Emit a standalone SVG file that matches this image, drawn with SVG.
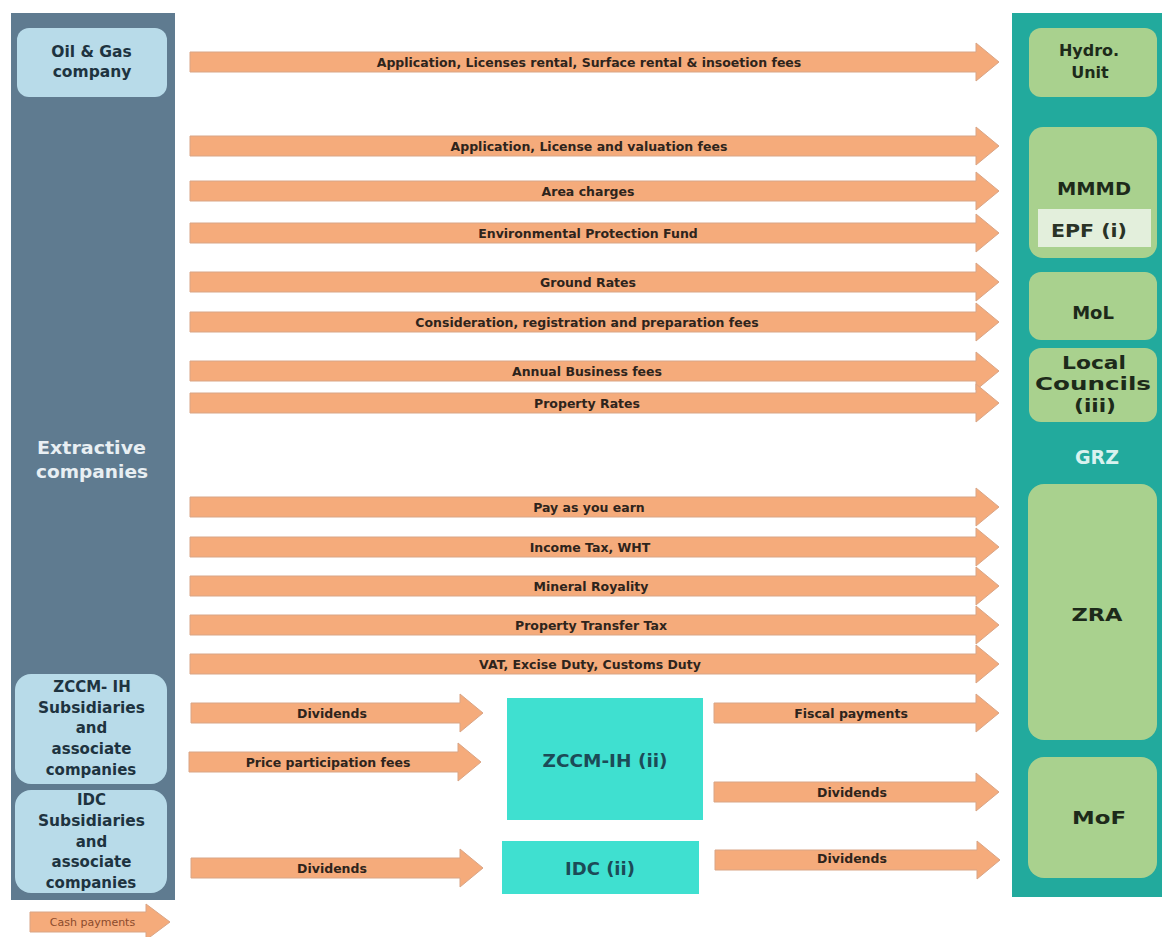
<svg xmlns="http://www.w3.org/2000/svg" xmlns:xlink="http://www.w3.org/1999/xlink" width="1162" height="937" viewBox="0 0 1162 937">
<style>
.arr{fill:#f5ab7b;stroke:#d9a586;stroke-width:1}
.al{font-family:"DejaVu Sans",sans-serif;font-weight:bold;font-size:12.5px;fill:#2e241c;text-anchor:middle;dominant-baseline:central}
.lbox{fill:#b8dbe9}
.gbox{fill:#a9d18e}
.lt{font-family:"DejaVu Sans",sans-serif;font-weight:bold;font-size:15px;fill:#1e3340;text-anchor:middle;dominant-baseline:central}
.gt{font-family:"DejaVu Sans",sans-serif;font-weight:bold;font-size:17px;fill:#1d2a1a;text-anchor:middle;dominant-baseline:central}
.ct{font-family:"DejaVu Sans",sans-serif;font-weight:bold;font-size:18.5px;fill:#1c4b57;text-anchor:middle;dominant-baseline:central}
</style>
<defs>
<polygon id="main" class="arr" points="190,-10 976,-10 976,-19 999,0 976,19 976,10 190,10"/>
<polygon id="sl" class="arr" points="0,-10 269,-10 269,-19 292,0 269,19 269,10 0,10"/>
<polygon id="sr" class="arr" points="0,-10 262,-10 262,-19 285,0 262,19 262,10 0,10"/>
</defs>
<rect width="1162" height="937" fill="#ffffff"/>

<g id="extractive">
<rect x="11" y="13" width="164" height="887" fill="#5f7b90"/>
<text class="lt" x="91.5" y="447" style="fill:#e8eff3;font-size:18.5px" textLength="109" lengthAdjust="spacingAndGlyphs">Extractive</text>
<text class="lt" x="92" y="471" style="fill:#e8eff3;font-size:18.5px" textLength="112" lengthAdjust="spacingAndGlyphs">companies</text>
</g>
<g id="oilgas">
<rect class="lbox" x="17" y="28" width="150" height="69" rx="12"/>
<text class="lt" x="91.5" y="52" style="font-size:15.5px">Oil &amp; Gas</text>
<text class="lt" x="92" y="72" style="font-size:15.5px">company</text>
</g>
<g id="zccm-subs">
<rect class="lbox" x="15" y="674" width="152" height="110" rx="16"/>
<text class="lt" x="92" y="687">ZCCM- IH</text>
<text class="lt" x="91.5" y="708" textLength="107" lengthAdjust="spacingAndGlyphs">Subsidiaries</text>
<text class="lt" x="91.5" y="728">and</text>
<text class="lt" x="91.5" y="749">associate</text>
<text class="lt" x="91" y="770">companies</text>
</g>
<g id="idc-subs">
<rect class="lbox" x="15" y="790" width="152" height="103" rx="16"/>
<text class="lt" x="91.5" y="800">IDC</text>
<text class="lt" x="91.5" y="821" textLength="107" lengthAdjust="spacingAndGlyphs">Subsidiaries</text>
<text class="lt" x="91.5" y="842">and</text>
<text class="lt" x="91.5" y="862">associate</text>
<text class="lt" x="91" y="883">companies</text>
</g>

<g id="grz">
<rect x="1012" y="13" width="150" height="884" fill="#22aa9d"/>
<text class="gt" x="1097" y="457" style="fill:#d9f2ef;font-size:19px">GRZ</text>
</g>
<g id="hydro">
<rect class="gbox" x="1029" y="28" width="128" height="69" rx="12"/>
<text class="gt" x="1089" y="50" style="font-size:16px">Hydro.</text>
<text class="gt" x="1090" y="72" style="font-size:16px">Unit</text>
</g>
<g id="mmmd">
<rect class="gbox" x="1029" y="127" width="128" height="131" rx="14"/>
<text class="gt" x="1094" y="189" textLength="74" lengthAdjust="spacingAndGlyphs">MMMD</text>
</g>
<g id="epf">
<rect x="1038" y="209" width="113" height="38" fill="#e3efdc"/>
<text class="gt" x="1089" y="230" style="fill:#2a3326;font-size:18px" textLength="76" lengthAdjust="spacingAndGlyphs">EPF (i)</text>
</g>
<g id="mol">
<rect class="gbox" x="1029" y="272" width="128" height="68" rx="12"/>
<text class="gt" x="1093" y="312" style="font-size:18px">MoL</text>
</g>
<g id="councils">
<rect class="gbox" x="1029" y="348" width="128" height="74" rx="12"/>
<text class="gt" x="1094" y="362" style="font-size:18.5px" textLength="64" lengthAdjust="spacingAndGlyphs">Local</text>
<text class="gt" x="1093" y="383" style="font-size:18.5px" textLength="116" lengthAdjust="spacingAndGlyphs">Councils</text>
<text class="gt" x="1095" y="405" style="font-size:18.5px" textLength="42" lengthAdjust="spacingAndGlyphs">(iii)</text>
</g>
<g id="zra">
<rect class="gbox" x="1028" y="484" width="129" height="256" rx="16"/>
<text class="gt" x="1097" y="615" textLength="51" lengthAdjust="spacingAndGlyphs">ZRA</text>
</g>
<g id="mof">
<rect class="gbox" x="1028" y="757" width="129" height="121" rx="16"/>
<text class="gt" x="1099" y="818" textLength="54" lengthAdjust="spacingAndGlyphs">MoF</text>
</g>

<g id="zccm">
<rect x="507" y="698" width="196" height="122" fill="#3fe0d0"/>
<text class="ct" x="605" y="760">ZCCM-IH (ii)</text>
</g>
<g id="idc">
<rect x="502" y="841" width="197" height="53" fill="#3fe0d0"/>
<text class="ct" x="600" y="868" style="font-size:18px">IDC (ii)</text>
</g>

<g id="connectors">
<use xlink:href="#main" y="62"/>
<text class="al" x="589" y="62">Application, Licenses rental, Surface rental &amp; insoetion fees</text>
<use xlink:href="#main" y="146"/>
<text class="al" x="589" y="146">Application, License and valuation  fees</text>
<use xlink:href="#main" y="191"/>
<text class="al" x="588" y="191">Area charges</text>
<use xlink:href="#main" y="233"/>
<text class="al" x="588" y="233">Environmental  Protection Fund</text>
<use xlink:href="#main" y="282"/>
<text class="al" x="588" y="282">Ground Rates</text>
<use xlink:href="#main" y="322"/>
<text class="al" x="587" y="322">Consideration, registration and preparation fees</text>
<use xlink:href="#main" y="371"/>
<text class="al" x="587" y="371">Annual Business fees</text>
<use xlink:href="#main" y="403"/>
<text class="al" x="587" y="403">Property  Rates</text>
<use xlink:href="#main" y="507"/>
<text class="al" x="589" y="507">Pay as you earn</text>
<use xlink:href="#main" y="547"/>
<text class="al" x="590" y="547">Income Tax, WHT</text>
<use xlink:href="#main" y="586"/>
<text class="al" x="591" y="586">Mineral  Royality</text>
<use xlink:href="#main" y="625"/>
<text class="al" x="591" y="625">Property Transfer Tax</text>
<use xlink:href="#main" y="664"/>
<text class="al" x="590" y="664">VAT, Excise  Duty, Customs Duty</text>

<use xlink:href="#sl" x="191" y="713"/>
<text class="al" x="332" y="713">Dividends</text>
<use xlink:href="#sl" x="189" y="762"/>
<text class="al" x="328" y="762">Price participation fees</text>
<use xlink:href="#sl" x="191" y="868"/>
<text class="al" x="332" y="868">Dividends</text>

<use xlink:href="#sr" x="714" y="713"/>
<text class="al" x="851" y="713">Fiscal payments</text>
<use xlink:href="#sr" x="714" y="792"/>
<text class="al" x="852" y="792">Dividends</text>
<use xlink:href="#sr" x="715" y="860"/>
<text class="al" x="852" y="858">Dividends</text>
</g>

<g id="legend">
<polygon class="arr" points="30,912 146,912 146,904 170,922 146,940 146,932 30,932"/>
<text x="92.5" y="922" style="font-family:'DejaVu Sans',sans-serif;font-size:11px;fill:#8b4a2b;text-anchor:middle;dominant-baseline:central">Cash payments</text>
</g>
</svg>
